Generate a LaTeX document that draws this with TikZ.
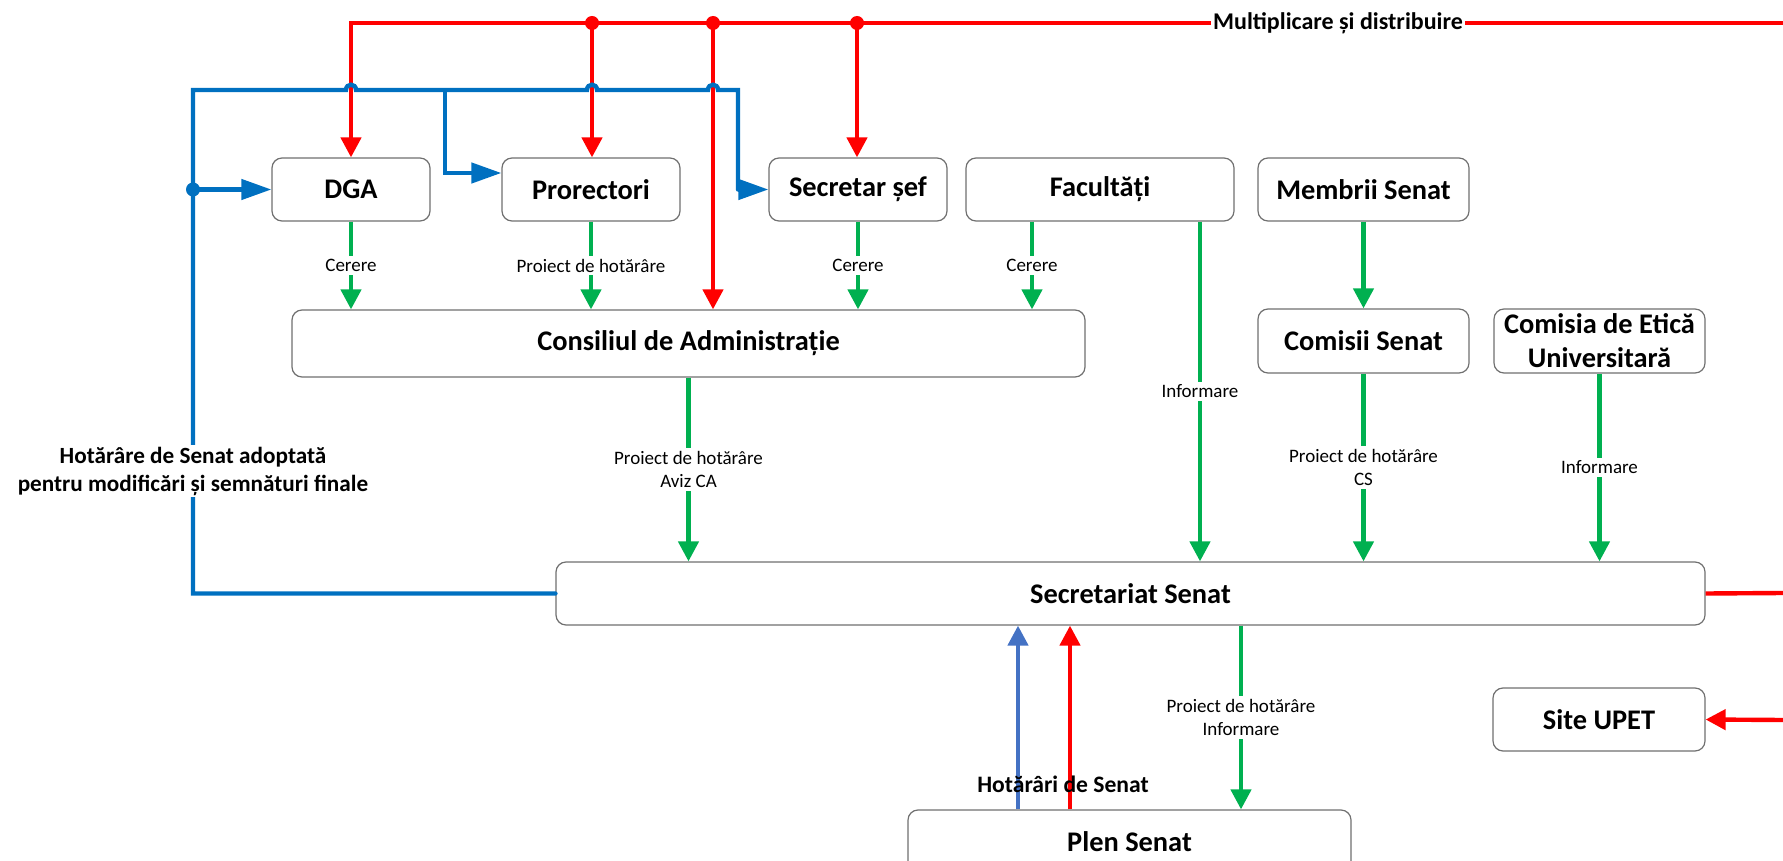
\documentclass[tikz,border=0pt]{standalone}
\usepackage{fontspec}
\setmainfont{Carlito}
\usetikzlibrary{arrows.meta}
\definecolor{rdx}{RGB}{255,0,0}
\definecolor{blx}{RGB}{0,112,192}
\definecolor{blt}{RGB}{68,114,196}
\definecolor{grx}{RGB}{0,176,80}
\definecolor{bdx}{RGB}{112,112,112}

\begin{document}
\begin{tikzpicture}[x=0.5pt,y=-0.5pt,
    box/.style={draw=bdx,line width=0.6pt,rounded corners=5pt,fill=white,align=center,
        inner sep=0pt,font=\bfseries\fontsize{14.2}{17}\selectfont},
    lbl/.style={fill=white,text=black,align=center,inner sep=1.5pt,font=\fontsize{9.5}{11.5}\selectfont},
    blbl/.style={fill=white,text=black,align=center,inner sep=1pt,font=\bfseries\fontsize{11.6}{14}\selectfont},
    rline/.style={rdx,line width=2.2pt},
    bline/.style={blx,line width=2.2pt},
    gline/.style={grx,line width=2.2pt,-{Triangle[length=10pt,width=10pt]}},
    tip/.style={-{Triangle[length=10pt,width=10pt]}},
    btip/.style={-{Triangle[length=15pt,width=10pt]}}]
    \useasboundingbox (0,0) rectangle (1783,861);

    % boxes
    \node[box,minimum width=79pt,minimum height=31.5pt] (dga) at (351,189.5) {DGA};
    \node[box,minimum width=89pt,minimum height=31.5pt] (pro) at (591,189.5) {Prorectori};
    \node[box,minimum width=89pt,minimum height=31.5pt] (sef) at (858,189.5) {Secretar șef};
    \node[box,minimum width=134pt,minimum height=31.5pt] (fac) at (1100,189.5) {Facultăți};
    \node[box,minimum width=105.5pt,minimum height=31.5pt] (mem) at (1363.5,189.5) {Membrii Senat};
    \node[box,minimum width=396.5pt,minimum height=33.5pt] (ca) at (688.5,343.5) {Consiliul de Administrație};
    \node[box,minimum width=105.5pt,minimum height=32pt] (com) at (1363.5,341) {Comisii Senat};
    \node[box,minimum width=105.5pt,minimum height=32pt] (etica) at (1599.5,341) {Comisia de Etică\\Universitară};
    \node[box,minimum width=574.5pt,minimum height=31.5pt] (sec) at (1130.5,593.5) {Secretariat Senat};
    \node[box,minimum width=106pt,minimum height=31.5pt] (site) at (1599,719.5) {Site UPET};
    \node[box,minimum width=221.5pt,minimum height=31.5pt] (plen) at (1129.5,841.5) {Plen Senat};

    % red: multiplicare
    \coordinate (rtop) at (1783,23);
    \coordinate (rc) at (351,23);
    \coordinate (r1) at (592,23);
    \coordinate (r2) at (713,23);
    \coordinate (r3) at (857,23);
    \coordinate (rsec) at (1783,593);
    \coordinate (rsite) at (1783,720);
    \coordinate (xr) at (1070,0);
    \draw[rline,tip] (rtop) -- (rc) -- (rc |- dga.north);
    \foreach \p/\q in {r1/pro,r2/ca,r3/sef} {
        \fill[rdx] (\p) circle (3.5pt);
        \draw[rline,tip] (\p) -- (\p |- \q.north);
    }
    \node[blbl,font=\bfseries\fontsize{12}{14}\selectfont] (mult) at (1338,23) {Multiplicare și distribuire};
    \draw[rline] (sec.east) -- (rsec);
    \draw[rline,tip] (rsite) -- (site.east);
    \draw[rline,tip] (xr |- plen.north) -- (xr |- sec.south);

    % blue: hotarari
    \coordinate (bl) at (193,90);
    \coordinate (bd) at (193,189.5);
    \coordinate (bb) at (445,90);
    \coordinate (bp) at (445,173);
    \coordinate (bs) at (738,90);
    \coordinate (xb) at (1018,0);
    \draw[bline,line cap=round] (sec.west) -- (sec.west -| bl) -- (bl)
        -- (346,90) .. controls (346,83) and (356,83) .. (356,90)
        -- (587,90) .. controls (587,83) and (597,83) .. (597,90)
        -- (708,90) .. controls (708,83) and (718,83) .. (718,90)
        -- (bs) -- (bs |- sef.west);
    \draw[bline,btip] (bs |- sef.west) -- (sef.west);
    \draw[bline,btip] (bb) -- (bp) -- (bp -| pro.west);
    \fill[blx] (bd) circle (3.5pt);
    \draw[bline,btip] (bd) -- (dga.west);
    \node[blbl] (hsa) at (193,471) {Hotărâre de Senat adoptată\\pentru modificări și semnături finale};
    \draw[blt,line width=2.2pt,tip] (xb |- plen.north) -- (xb |- sec.south);
    \node[font=\bfseries\fontsize{11.8}{14}\selectfont] (hs) at (1063,784) {Hotărâri de Senat};

    % green
    \coordinate (fa) at (1032,0);
    \coordinate (fb) at (1200,0);
    \coordinate (gp) at (1241,0);
    \foreach \n/\t in {dga/Cerere,pro/Proiect de hotărâre,sef/Cerere} {
        \draw[gline] (\n.south) -- (\n.south |- ca.north) node[lbl,midway] (c\n) {\t};
    }
    \draw[gline] (fa |- fac.south) -- (fa |- ca.north) node[lbl,midway] (cfac) {Cerere};
    \draw[gline] (fb |- fac.south) -- (fb |- sec.north) node[lbl,midway] (ifac) {Informare};
    \draw[gline] (mem.south) -- (com.north);
    \draw[gline] (ca.south) -- (ca.south |- sec.north) node[lbl,midway] (pca) {Proiect de hotărâre\\Aviz CA};
    \draw[gline] (com.south) -- (com.south |- sec.north) node[lbl,midway] (pcs) {Proiect de hotărâre\\CS};
    \draw[gline] (etica.south) -- (etica.south |- sec.north) node[lbl,midway] (iet) {Informare};
    \draw[gline] (gp |- sec.south) -- (gp |- plen.north) node[lbl,midway] (ppl) {Proiect de hotărâre\\Informare};
\end{tikzpicture}
\end{document}
